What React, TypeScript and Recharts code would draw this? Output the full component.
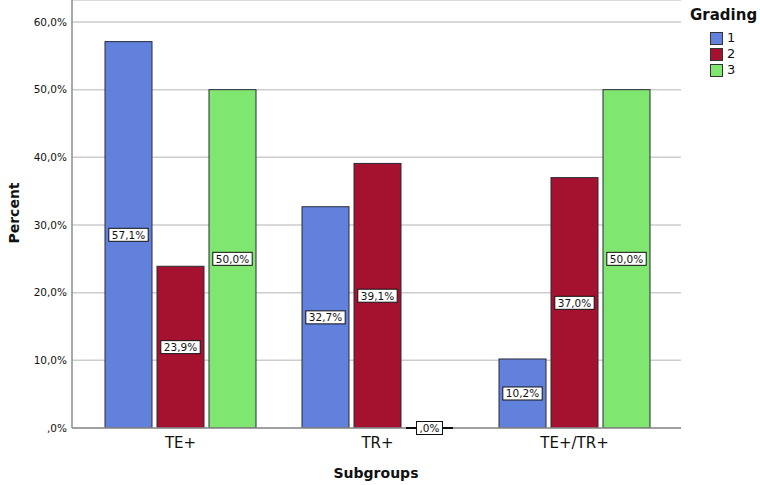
import React, { useLayoutEffect, useRef, useState } from 'react';
import { BarChart, Bar, XAxis, YAxis, CartesianGrid, LabelList, Label } from 'recharts';

const categories = ['TE+', 'TR+', 'TE+/TR+'];
const grade1 = [57.1, 32.7, 10.2];
const grade2 = [23.9, 39.1, 37.0];
const grade3 = [50.0, 0.0, 50.0];
const yTicks = [0, 10, 20, 30, 40, 50, 60];

const series = [
  { key: 'g1', name: '1', color: '#6281dd' },
  { key: 'g2', name: '2', color: '#a4122f' },
  { key: 'g3', name: '3', color: '#7fe66f' },
];

const data = categories.map((c, i) => ({ name: c, g1: grade1[i], g2: grade2[i], g3: grade3[i] }));

const FONT = 'DejaVu Sans, sans-serif';

const fmt = (v: number) => (v === 0 ? ',0%' : `${v.toFixed(1).replace('.', ',')}%`);

function BoxLabel(props: any) {
  const vb = props.viewBox || props;
  const x = Number(vb.x);
  const y = Number(vb.y);
  const w = Number(vb.width);
  const h = Number(vb.height);
  const ref = useRef<SVGTextElement>(null);
  const [tw, setTw] = useState(30);
  useLayoutEffect(() => {
    if (ref.current) setTw(ref.current.getBBox().width);
  }, [props.value]);
  const cx = x + w / 2;
  const cy = y + h / 2;
  const bw = tw + 6;
  const zero = Number(props.value) === 0;
  return (
    <g>
      {/* a zero-height bar is shown as a flat dark line on the baseline */}
      {zero && <line x1={x} x2={x + w} y1={y} y2={y} stroke="#111" strokeWidth={2} />}
      <rect x={cx - bw / 2} y={cy - 6.5} width={bw} height={13} fill="#fff" stroke="#111" strokeWidth={1} />
      <text ref={ref} x={cx} y={cy + 3.8} textAnchor="middle" fontFamily={FONT} fontSize={10.5} fill="#111">
        {fmt(Number(props.value))}
      </text>
    </g>
  );
}

function BarShape(props: any) {
  const { x, y, width, height, fill } = props;
  if (!height) return null;
  return <rect x={x} y={y} width={width} height={height} fill={fill} stroke="#2a2a36" strokeWidth={1} />;
}

export default function App() {
  return (
    <div style={{ position: 'absolute', left: 0, top: 0, width: 760, height: 485, background: '#fff' }}>
      <BarChart
        width={760}
        height={485}
        data={data}
        margin={{ top: 0, right: 79, bottom: 0, left: 0 }}
        barSize={47}
        barGap={5}
      >
        <CartesianGrid vertical={false} stroke="#cdcdcd" strokeWidth={1.5} />
        <XAxis
          dataKey="name"
          height={57}
          padding={{ left: 10, right: 8 }}
          axisLine={{ stroke: '#8c8c8c', strokeWidth: 1.5 }}
          tickLine={false}
          tickSize={0}
          tickMargin={9}
          tick={{ fontFamily: FONT, fontSize: 15, fill: '#111' }}
        >
          <Label
            content={() => (
              <text x={376} y={478} textAnchor="middle" fontFamily={FONT} fontSize={14} fontWeight="bold" fill="#111">
                Subgroups
              </text>
            )}
          />
        </XAxis>
        <YAxis
          width={72}
          domain={[0, 63.25]}
          ticks={yTicks}
          allowDataOverflow
          tickFormatter={fmt}
          axisLine={{ stroke: '#8c8c8c', strokeWidth: 1.5 }}
          tickLine={false}
          tickSize={0}
          tickMargin={5}
          tick={{ fontFamily: FONT, fontSize: 10.5, fill: '#111' }}
        >
          <Label
            content={() => (
              <text
                x={14}
                y={213}
                transform="rotate(-90 14 213)"
                textAnchor="middle"
                dominantBaseline="central"
                fontFamily={FONT}
                fontSize={14}
                fontWeight="bold"
                fill="#111"
              >
                Percent
              </text>
            )}
          />
        </YAxis>
        {series.map((s) => (
          <Bar key={s.key} dataKey={s.key} fill={s.color} shape={<BarShape />} isAnimationActive={false}>
            <LabelList dataKey={s.key} content={<BoxLabel />} />
          </Bar>
        ))}
      </BarChart>
      <div style={{ position: 'absolute', left: 690, top: 6, fontFamily: FONT, color: '#111' }}>
        <div style={{ fontSize: 15, fontWeight: 'bold', lineHeight: '18px' }}>Grading</div>
        <div style={{ marginTop: 6, marginLeft: 20 }}>
          {series.map((s) => (
            <div key={s.key} style={{ display: 'flex', alignItems: 'center', height: 16 }}>
              <span
                style={{
                  display: 'inline-block',
                  width: 11,
                  height: 11,
                  background: s.color,
                  border: '1px solid #333',
                  marginRight: 4,
                }}
              />
              <span style={{ fontSize: 13, lineHeight: '16px' }}>{s.name}</span>
            </div>
          ))}
        </div>
      </div>
    </div>
  );
}
